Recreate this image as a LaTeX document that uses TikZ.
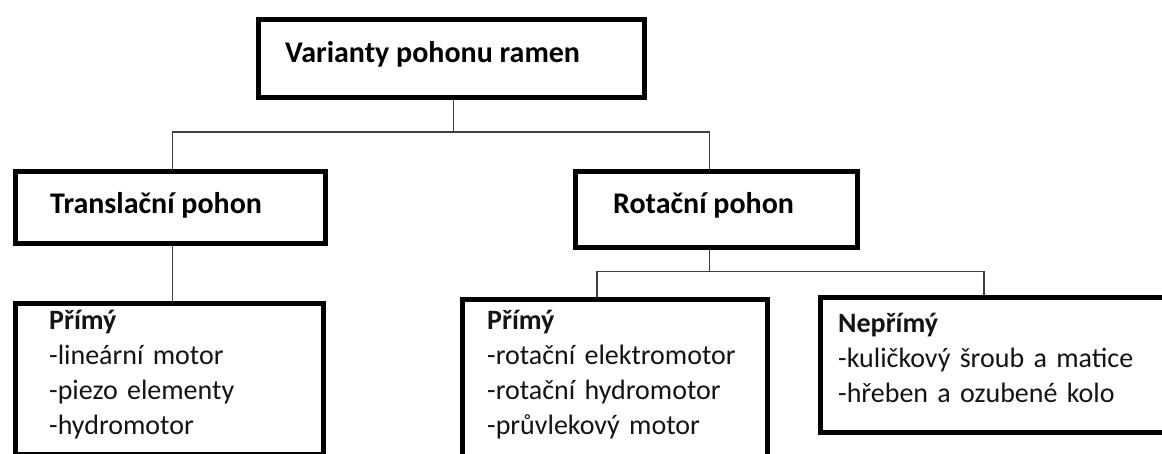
\documentclass[tikz,border=0pt]{standalone}
\usepackage{fontspec}
\setmainfont{Carlito}
\usetikzlibrary{calc}
\newcommand{\natspaces}{\spaceskip=\fontdimen2\font\relax\xspaceskip=\fontdimen2\font\relax}
\begin{document}
\begin{tikzpicture}[x=1pt,y=-1pt,
  box/.style={draw=black, line width=5pt, inner sep=0pt, anchor=north west, fill=white},
  conn/.style={draw=black!75, line width=1.8pt},
  head/.style={anchor=base west, inner sep=0pt, text=black, font=\fontsize{30}{36}\selectfont\bfseries},
  list/.style={anchor=base west, inner sep=0pt, text=black!92, align=left, text width=340pt, font=\fontsize{28}{34.8}\selectfont\natspaces}]
\useasboundingbox (0,0) rectangle (1162,454);
\clip (0,0) rectangle (1162,454);
\fill[white] (0,0) rectangle (1162,454);
% boxes
\node[box, minimum width=386pt, minimum height=78pt] (top) at (256,17) {};
\node[box, minimum width=310pt, minimum height=72pt] (trans) at (12.5,169.5) {};
\node[box, minimum width=282pt, minimum height=76pt] (rot) at (572.5,169.5) {};
\node[box, minimum width=308pt, minimum height=150pt] (lb) at (12.5,301.5) {};
\node[box, minimum width=305pt, minimum height=180pt] (mb) at (459.5,297.5) {};
\node[box, minimum width=370pt, minimum height=134pt] (rb) at (817.5,295.5) {};
% texts
\node[head] (ttop) at (285,63) {Varianty pohonu ramen};
\node[head] (ttrans) at (50,214) {Translační pohon};
\node[head] (trot) at (613,214) {Rotační pohon};
\node[list] (tlb) at (49,330) {\textbf{Přímý}\\-lineární motor\\-piezo elementy\\-hydromotor};
\node[list] (tmb) at (487,330) {\textbf{Přímý}\\-rotační elektromotor\\-rotační hydromotor\\-průvlekový motor};
\node[list] (trb) at (838,333) {\textbf{Nepřímý}\\-kuličkový šroub a matice\\-hřeben a ozubené kolo};
% connectors
\path ($(top.south west)!0.505!(top.south east)$) coordinate (t0) ++(0,32) coordinate (t1);
\draw[conn] (t0) -- (t1);
\draw[conn] (t1) -| ($(trans.north west)!0.508!(trans.north east)$);
\draw[conn] (t1) -| ($(rot.north west)!0.477!(rot.north east)$);
\path ($(trans.south west)!0.508!(trans.south east)$) coordinate (l0);
\draw[conn] (l0) -- (l0 |- lb.north);
\path ($(rot.south west)!0.477!(rot.south east)$) coordinate (r0) ++(0,21) coordinate (r1);
\draw[conn] (r0) -- (r1);
\draw[conn] (r1) -| ($(mb.north west)!0.444!(mb.north east)$);
\draw[conn] (r1) -| ($(rb.north west)!0.443!(rb.north east)$);
\end{tikzpicture}
\end{document}
